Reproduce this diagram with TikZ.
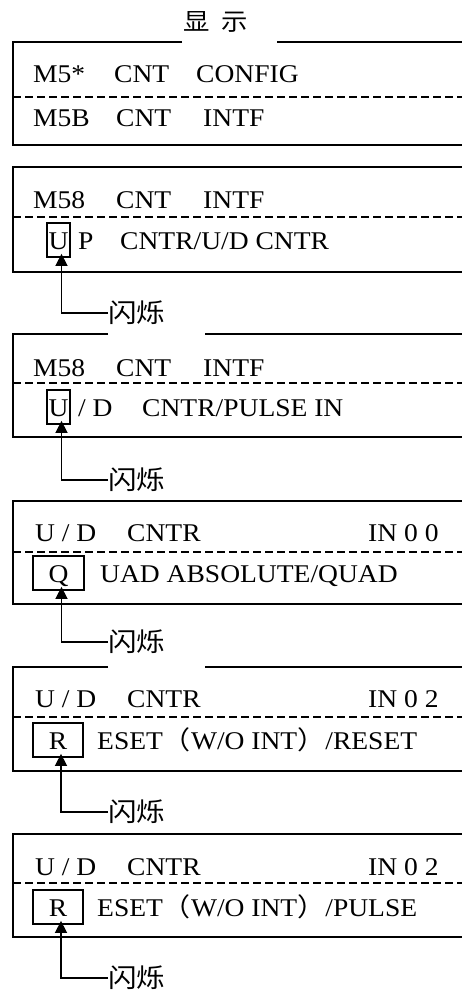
\documentclass[tikz,border=0pt]{standalone}
\usepackage{fontspec}
\setmainfont{Liberation Serif}[FakeStretch=1.08]
\newfontfamily\cjk{Noto Sans CJK SC}[FakeStretch=1.1]
\usetikzlibrary{arrows.meta}

\begin{document}
\begin{tikzpicture}[x=1pt, y=-1pt, font=\fontsize{25.5}{30}\selectfont,
    >={Triangle[length=12pt,width=12pt]},
    frame/.style={line width=1.8pt},
    sepline/.style={dashed, dash pattern=on 8pt off 4pt, line width=1.3pt},
    txt/.style={anchor=base west, inner sep=0pt},
    keybox/.style={draw, line width=1.8pt, anchor=base, inner sep=0pt, text height=26pt, text depth=8pt},
    flash/.style={anchor=west, inner sep=0pt, font=\cjk\fontsize{26}{30}\selectfont},
    blink/.style={->, line width=1.6pt, shorten >=-4pt}]
	\useasboundingbox (0,0) rectangle (462,992);
	\clip (0,0) rectangle (462,992);
	
	% Title
	\node[font=\cjk\fontsize{24}{28}\selectfont] (title) at (216,22) {显\hspace{12pt}示};
	
	% Panel 1
	\draw[frame] (182,42) -- (13,42) -- (13,145) -- (470,145);
	\draw[frame] (277,42) -- (470,42);
	\draw[sepline] (13,97) -- (470,97);
	\node[txt] (p1m) at (33,83) {M5*};
	\node[txt] (p1c) at (114,83) {CNT};
	\node[txt] (p1s) at (196,83) {CONFIG};
	\node[txt] (p1n) at (33,127) {M5B};
	\node[txt] (p1d) at (116,127) {CNT};
	\node[txt] (p1t) at (203,127) {INTF};
	
	% Panel 2
	\draw[frame] (470,167) -- (13,167) -- (13,272) -- (470,272);
	\draw[sepline] (13,217) -- (470,217);
	\node[txt] (p2m) at (33,209) {M58};
	\node[txt] (p2c) at (116,209) {CNT};
	\node[txt] (p2t) at (203,209) {INTF};
	\node[keybox, minimum width=23pt] (k2) at (58.5,249) {U};
	\node[txt] (p2p) at (78,249) {P};
	\node[txt] (p2s) at (120,249) {CNTR/U/D CNTR};
	\node[flash] (f2) at (108,313) {闪烁};
	\draw[blink] (f2.west) -| ([xshift=3pt]k2.south);
	
	% Panel 3
	\draw[frame] (108,334) -- (13,334) -- (13,437) -- (470,437);
	\draw[frame] (205,334) -- (470,334);
	\draw[sepline] (13,383) -- (470,383);
	\node[txt] (p3m) at (33,376) {M58};
	\node[txt] (p3c) at (116,376) {CNT};
	\node[txt] (p3t) at (203,376) {INTF};
	\node[keybox, minimum width=23pt] (k3) at (58.5,416) {U};
	\node[txt] (p3d) at (78,416) {/ D};
	\node[txt] (p3s) at (142,416) {CNTR/PULSE IN};
	\node[flash] (f3) at (108,480) {闪烁};
	\draw[blink] (f3.west) -| ([xshift=3pt]k3.south);
	
	% Panel 4
	\draw[frame] (470,501) -- (13,501) -- (13,604) -- (470,604);
	\draw[sepline] (13,552) -- (470,552);
	\node[txt] (p4u) at (35,541) {U / D};
	\node[txt] (p4c) at (127,541) {CNTR};
	\node[txt] (p4i) at (368,541) {IN 0 0};
	\node[keybox, minimum width=51pt] (k4) at (58.5,582) {Q};
	\node[txt] (p4s) at (100,582) {UAD ABSOLUTE/QUAD};
	\node[flash] (f4) at (108,642) {闪烁};
	\draw[blink] (f4.west) -| ([xshift=3pt]k4.south);
	
	% Panel 5
	\draw[frame] (108,667) -- (13,667) -- (13,771) -- (470,771);
	\draw[frame] (205,667) -- (470,667);
	\draw[sepline] (13,717) -- (470,717);
	\node[txt] (p5u) at (35,707) {U / D};
	\node[txt] (p5c) at (127,707) {CNTR};
	\node[txt] (p5i) at (368,707) {IN 0 2};
	\node[keybox, minimum width=50pt] (k5) at (58,749) {R};
	\node[txt] (p5s) at (97,749) {ESET{\cjk （}W/O INT{\cjk ）}/RESET};
	\node[flash] (f5) at (108,812) {闪烁};
	\draw[blink] (f5.west) -| ([xshift=3pt]k5.south);
	
	% Panel 6
	\draw[frame] (470,834) -- (13,834) -- (13,937) -- (470,937);
	\draw[sepline] (13,883) -- (470,883);
	\node[txt] (p6u) at (35,875) {U / D};
	\node[txt] (p6c) at (127,875) {CNTR};
	\node[txt] (p6i) at (368,875) {IN 0 2};
	\node[keybox, minimum width=50pt] (k6) at (58,916) {R};
	\node[txt] (p6s) at (97,916) {ESET{\cjk （}W/O INT{\cjk ）}/PULSE};
	\node[flash] (f6) at (108,978) {闪烁};
	\draw[blink] (f6.west) -| ([xshift=3pt]k6.south);
\end{tikzpicture}
\end{document}
